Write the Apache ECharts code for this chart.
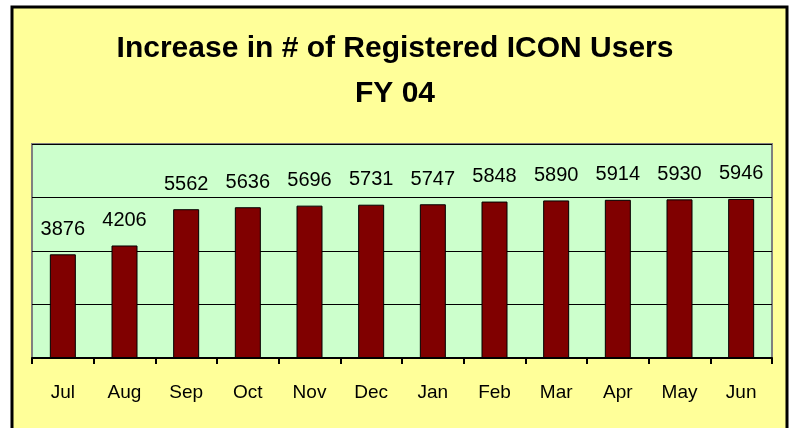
<!DOCTYPE html>
<html><head><meta charset="utf-8">
<script src="https://cdn.jsdelivr.net/npm/echarts@6/dist/echarts.min.js"></script>
<style>html,body{margin:0;padding:0;background:#fff}#c{width:790px;height:428px}</style>
</head><body><div id="c"></div>
<script>
const months = ['Jul','Aug','Sep','Oct','Nov','Dec','Jan','Feb','Mar','Apr','May','Jun'];
const users = [3876,4206,5562,5636,5696,5731,5747,5848,5890,5914,5930,5946];
const titleLines = ['Increase in # of Registered ICON Users','FY 04'];

const chart = echarts.init(document.getElementById('c'));
chart.setOption({
  animation: false,
  backgroundColor: '#fff',
  graphic: [{
    type: 'rect', z: -10, silent: true,
    shape: {x: 12, y: 7, width: 775, height: 440},
    style: {fill: '#FFFF99', stroke: '#000', lineWidth: 3}
  }],
  title: {
    text: titleLines.join('\n'),
    left: 'center', top: 21,
    textStyle: {fontFamily: '"Liberation Sans",Arial,sans-serif', fontWeight: 'bold', fontSize: 30, lineHeight: 45, color: '#000'}
  },
  grid: {left: 32, right: 18, top: 144, bottom: 70, show: true, backgroundColor: '#CCFFCC', borderColor: '#808080', borderWidth: 2},
  xAxis: {
    type: 'category', data: months,
    axisLine: {lineStyle: {color: '#000', width: 2}},
    axisTick: {show: true, length: 6, lineStyle: {color: '#000', width: 2}},
    axisLabel: {margin: 25, fontSize: 19, color: '#000', fontFamily: '"Liberation Sans",Arial,sans-serif'}
  },
  yAxis: {
    type: 'value', min: 0, max: 8000, interval: 2000,
    axisLabel: {show: false}, axisLine: {show: false}, axisTick: {show: false},
    splitLine: {lineStyle: {color: '#000', width: 1}}
  },
  series: [{
    type: 'bar', data: users, barWidth: 26,
    itemStyle: {color: '#800000', borderColor: '#000', borderWidth: 1},
    label: {show: true, position: 'top', distance: 15, fontSize: 20, color: '#000', fontFamily: '"Liberation Sans",Arial,sans-serif'}
  }]
});
</script></body></html>
